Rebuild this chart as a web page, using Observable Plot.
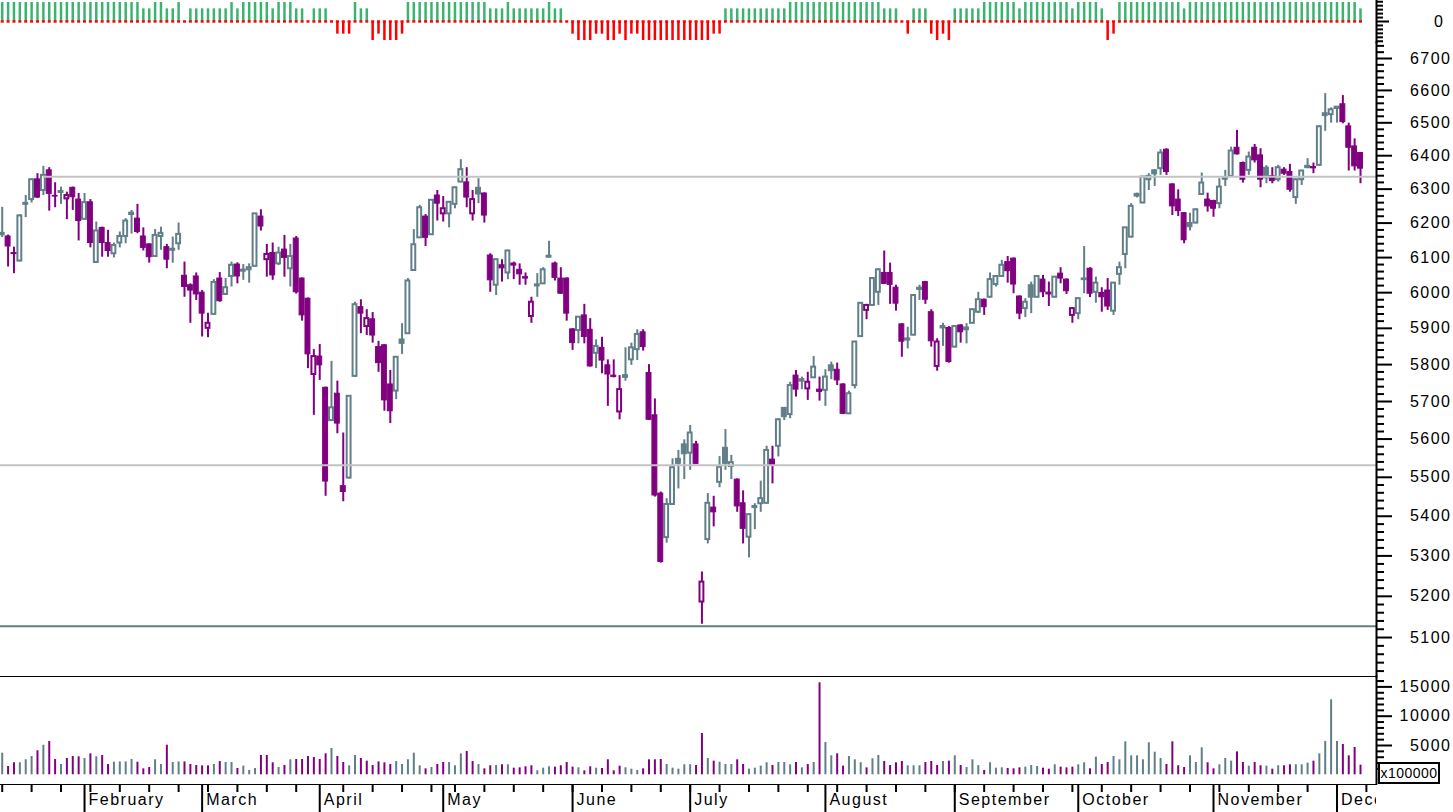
<!DOCTYPE html>
<html><head><meta charset="utf-8">
<script src="https://cdn.jsdelivr.net/npm/d3@7"></script>
<script src="https://cdn.jsdelivr.net/npm/@observablehq/plot@0.6"></script>
<style>
html,body{margin:0;padding:0;background:#fff;}
#chart{position:relative;width:1453px;height:812px;overflow:hidden;background:#fff;}
#chart svg{display:block;}
#unit{position:absolute;left:1378px;top:762px;width:58px;height:18px;border:2px solid #000;font:14px 'Liberation Sans',Arial,sans-serif;letter-spacing:0.5px;line-height:18px;text-align:center;color:#000;background:#fff;}
</style></head><body><div id="chart"></div>
<script>
// ---- data (trading days, mid-January to early December) ----
const open = [6166,6161,6113,6090,6255,6269,6329,6296,6356,6280,6290,6271,6304,6269,6211,6261,6086,6186,6142,6111,6142,6161,6225,6213,6161,6138,6103,6161,6130,6121,6140,6048,6021,6046,6000,5900,5939,6040,5995,6046,6080,6061,6065,6075,6219,6094,6113,6082,6123,6068,6155,6040,5983,5773,5822,5737,5649,5721,5477,5498,5768,5959,5905,5925,5848,5853,5746,5728,5869,5885,6063,6157,6219,6166,6281,6227,6227,6255,6321,6320,6227,6304,6287,6106,6021,6078,6056,6083,6065,6044,5933,6019,6025,6101,6083,6040,6040,5897,5894,5936,5896,5831,5846,5798,5770,5672,5765,5813,5841,5889,5777,5663,5458,5346,5430,5548,5586,5563,5586,5186,5341,5422,5487,5577,5528,5494,5433,5347,5422,5432,5433,5546,5581,5683,5665,5770,5755,5734,5764,5732,5730,5798,5786,5746,5667,5743,5877,5950,5964,6001,6056,6056,6014,5911,5872,5881,6014,6030,5945,5795,5901,5901,5848,5908,5896,5914,5945,5980,5987,6023,6046,6087,6097,5989,5955,6021,5987,6037,6000,5987,6054,6037,5936,5941,6037,6068,6001,5999,6006,5948,6052,6109,6159,6286,6259,6328,6356,6361,6418,6314,6269,6229,6200,6200,6284,6269,6265,6257,6336,6338,6424,6378,6356,6424,6401,6364,6338,6328,6358,6351,6275,6328,6364,6366,6371,6522,6525,6544,6557,6489,6428,6408];
const high = [6246,6165,6130,6224,6281,6330,6346,6368,6364,6319,6306,6291,6306,6287,6287,6269,6203,6188,6179,6142,6174,6213,6237,6255,6186,6140,6181,6188,6138,6159,6200,6087,6025,6056,6006,5942,6037,6057,6040,6087,6085,6080,6082,6228,6239,6138,6142,6130,6164,6138,6161,6042,5985,5841,5855,5739,5809,5755,5616,5716,5973,5980,5952,5944,5864,5855,5784,5822,5913,6040,6181,6252,6225,6269,6296,6278,6263,6306,6388,6364,6296,6331,6289,6111,6096,6094,6121,6087,6082,6056,5987,6054,6071,6147,6087,6071,6042,5899,5933,5967,5927,5868,5875,5813,5813,5770,5846,5859,5896,5896,5800,5707,5462,5445,5548,5570,5598,5636,5594,5260,5458,5451,5554,5625,5557,5496,5465,5406,5432,5490,5581,5581,5654,5684,5752,5784,5766,5779,5822,5766,5786,5807,5804,5748,5728,5864,5972,5967,6042,6068,6119,6084,6021,5913,5903,5994,6021,6032,5952,5871,5914,5905,5907,5910,5913,5954,6001,5982,6056,6048,6092,6103,6099,5991,5983,6030,6048,6049,6030,6046,6071,6039,5957,5985,6132,6071,6044,6014,6040,6029,6087,6188,6257,6288,6338,6346,6358,6418,6421,6316,6298,6231,6229,6241,6348,6288,6267,6331,6356,6426,6477,6381,6411,6434,6421,6370,6364,6371,6364,6374,6330,6356,6391,6378,6490,6590,6546,6550,6584,6499,6451,6410];
const low = [6158,6073,6054,6088,6216,6259,6272,6281,6235,6245,6255,6210,6237,6148,6209,6128,6084,6101,6101,6099,6128,6140,6168,6169,6119,6084,6101,6121,6068,6084,6121,5987,5914,5978,5876,5874,5937,5973,5992,6016,6025,6035,6027,6073,6177,6044,6035,6077,6044,6016,5996,5920,5789,5663,5757,5451,5647,5614,5437,5496,5765,5885,5880,5859,5779,5674,5641,5705,5828,5883,6061,6155,6132,6164,6206,6203,6186,6242,6319,6245,6206,6257,6200,6001,5992,6030,6037,6037,6021,6021,5914,5987,6023,6099,6033,5995,5920,5839,5857,5857,5793,5789,5775,5687,5764,5651,5755,5798,5811,5837,5649,5449,5282,5332,5428,5470,5494,5518,5533,5132,5330,5373,5473,5518,5494,5410,5330,5295,5366,5410,5431,5483,5553,5649,5654,5712,5732,5703,5762,5701,5687,5759,5743,5665,5665,5734,5875,5924,5962,5964,6023,5967,5948,5820,5843,5879,5978,5967,5848,5782,5850,5804,5846,5859,5857,5913,5941,5936,5985,6016,6044,6027,5997,5924,5930,5941,5985,5986,5961,5985,6025,5995,5914,5924,5997,5986,5970,5945,5950,5936,6021,6068,6157,6274,6257,6296,6308,6341,6341,6222,6219,6140,6177,6198,6281,6232,6217,6242,6308,6336,6402,6318,6341,6378,6304,6316,6316,6321,6341,6291,6255,6311,6361,6346,6369,6474,6499,6499,6497,6354,6354,6316];
const close = [6170,6132,6110,6221,6258,6328,6275,6341,6286,6278,6293,6281,6276,6206,6260,6142,6177,6142,6119,6135,6161,6206,6229,6174,6128,6101,6164,6170,6094,6124,6167,6016,6006,5995,5941,5914,6029,5976,6014,6078,6046,6064,6071,6227,6190,6109,6049,6113,6099,6103,6001,5936,5828,5822,5798,5489,5683,5641,5462,5714,5966,5941,5927,5880,5804,5703,5674,5820,5857,6033,6137,6245,6157,6267,6257,6242,6261,6304,6358,6275,6269,6284,6222,6035,6094,6069,6119,6077,6052,6040,5973,6022,6065,6104,6042,5997,5941,5859,5931,5876,5795,5850,5811,5773,5766,5732,5770,5846,5883,5848,5651,5453,5285,5430,5525,5535,5560,5616,5535,5235,5433,5410,5526,5535,5538,5425,5368,5404,5425,5445,5570,5531,5651,5658,5743,5732,5759,5752,5793,5726,5766,5782,5757,5667,5721,5862,5970,5964,6040,6065,6025,6022,5969,5863,5866,5992,6008,5980,5864,5862,5905,5807,5905,5889,5901,5952,5980,5959,6037,6046,6078,6061,6023,5941,5973,5986,6046,6001,5995,6044,6040,6004,5955,5983,6039,5997,6027,5987,5961,6027,6071,6186,6249,6278,6336,6338,6344,6408,6351,6249,6235,6150,6188,6239,6318,6249,6242,6306,6328,6414,6404,6328,6396,6386,6328,6332,6324,6364,6346,6298,6328,6354,6368,6362,6488,6528,6540,6548,6502,6424,6368,6361];
// volume in units of 100000
const volume = [3690,1420,2050,2050,2560,3120,4100,5050,5680,2610,1760,2780,3120,3070,2780,3580,3070,3300,1760,2150,2200,2200,2610,2150,1020,1250,2560,1760,5050,2100,2200,2200,1760,1590,1530,1530,1760,2260,2100,2100,1080,1480,740,1080,3300,3300,2050,1250,1590,2560,2610,2610,3120,2950,2610,3580,4490,3120,2100,1530,3300,2780,2330,1590,2200,2050,1760,2260,1760,2560,3690,1530,1020,1250,1760,2100,2100,1530,3580,3980,2260,1760,1020,1540,1600,1710,1710,1130,1190,1370,1540,680,1130,1370,1310,1540,2100,1310,1190,680,1370,1130,1080,2560,680,1480,1190,960,740,1020,2560,2560,2610,1760,1130,960,1710,1710,1590,7050,2780,2330,2150,1760,1760,2560,1760,960,1130,1480,2050,1590,2100,2100,1710,2100,1190,1760,2100,15700,5510,3240,3580,1480,3120,2560,2050,1190,2730,3300,2270,1590,2050,2270,1540,1540,1540,2100,2270,1590,2270,2330,3240,1590,1250,2560,1560,740,2050,1130,1190,1080,1020,1190,1310,1590,1420,1130,960,1710,1310,1190,1310,1710,2050,1020,3010,1760,2100,3120,2560,5630,3240,3240,2560,5460,3860,2780,1760,5630,1540,1250,3240,2100,4610,2050,1020,1710,2780,2330,3920,2100,1480,2100,1540,1480,960,1540,1540,1710,1710,1710,1990,2330,3580,5690,12800,5690,5170,3240,4660,1650];
// trend indicator shown in the top strip
const signal = [3,3,3,3,3,3,3,3,3,3,3,3,3,3,3,3,3,3,3,3,3,3,3,3,2,2,3,3,2,2,3,0,2,2,2,2,2,2,2,3,2,3,3,3,3,3,2,3,3,3,2,2,0,2,2,2,0,-2,-2,-2,3,2,2,-3,-2,-3,-3,-3,-2,3,3,3,3,3,3,3,3,3,3,3,3,3,3,2,2,2,3,2,2,2,2,2,2,3,2,2,0,-2,-3,-3,-3,-2,-2,-3,-3,-2,-3,-2,-2,-3,-3,-3,-3,-3,-3,-3,-3,-3,-3,-3,-3,-2,-2,2,2,2,2,2,2,2,2,2,2,2,3,3,3,3,3,3,3,3,3,3,3,3,3,3,3,3,2,2,2,0,-2,2,2,2,-2,-3,-2,-3,2,2,2,2,2,3,3,3,3,3,3,2,3,3,3,3,3,3,3,3,2,3,3,3,3,2,-3,-2,3,3,3,3,3,3,3,3,3,3,3,2,3,3,3,3,3,3,3,3,3,3,3,3,3,3,3,3,3,3,3,3,3,3,3,3,3,3,3,3,3,2,0,-2];
const monthLabels = ["February","March","April","May","June","July","August","September","October","November","December"];
const monthStarts = [14,34,54,75,97,117,140,162,183,206,227];
const weekTicks = [0,5,10,15,20,25,30,35,40,45,50,58,63,68,73,77,82,87,92,97,102,107,112,117,122,127,132,137,142,147,152,157,162,167,172,177,182,187,192,197,202,207,212,217,222,227,232];
const priceTicks = [5100,5200,5300,5400,5500,5600,5700,5800,5900,6000,6100,6200,6300,6400,6500,6600,6700];
const volumeTicks = [5000,10000,15000];
const signalTicks = [0];
const levelValues = [6337, 5531, 5127];
const levelStarts = [7, null, null];
const levelColors = ["#c3c3c3", "#c3c3c3", "#617f88"];

// ---- layout ----
const W = 1453, MR = 77;
const xDomain = [-0.29, 233.72];
const UP = "#617f88", DOWN = "#800080";
const rows = close.map((c, i) => ({i, o: open[i], h: high[i], l: low[i], c, v: volume[i], s: signal[i], up: i === 0 || c >= close[i - 1]}));
const style = {fontFamily: "'Liberation Sans', Arial, sans-serif", fontSize: "16px", color: "#000", background: "transparent", overflow: "visible", letterSpacing: "1.5px"};
const common = {width: W, marginLeft: 0, marginRight: MR, x: {domain: xDomain, axis: null}, style};

const sigMinor = d3.range(-5, 6).filter(k => k !== 0).map(k => k * 0.625);
const priceMinor = d3.range(5020, 6750, 20).filter(v => v % 100 !== 0);
const volMinor = d3.range(1000, 16001, 1000).filter(v => v % 5000 !== 0);

const strip = Plot.plot({...common, height: 42, marginTop: 0, marginBottom: 0,
  y: {domain: [-3.32, 3.32], label: null},
  marks: [
    Plot.ruleX(rows.filter(d => d.s > 0), {x: "i", y1: 0, y2: "s", stroke: "#3cb371", strokeWidth: 2.5}),
    Plot.ruleX(rows.filter(d => d.s < 0), {x: "i", y1: 0, y2: "s", stroke: "#ff0000", strokeWidth: 2.5}),
    Plot.ruleX(rows, {x: "i", y1: -0.27, y2: 0.12, stroke: "#ff0000", strokeWidth: 3}),
    Plot.axisY({anchor: "right", ticks: sigMinor, tickSize: 6, tickFormat: () => "", strokeWidth: 2}),
    Plot.axisY({anchor: "right", ticks: signalTicks, tickSize: 12, tickPadding: 56, tickFormat: d => String(d), textAnchor: "end", strokeWidth: 2}),
    Plot.frame({anchor: "right", strokeWidth: 2})
  ]
});

function bodies(data, color) {
  return [
    Plot.rect(data.filter(d => d.c <= d.o), {x1: d => d.i - 0.42, x2: d => d.i + 0.42, y1: "o", y2: "c", fill: color, stroke: color, strokeWidth: 1}),
    Plot.rect(data.filter(d => d.c > d.o), {x1: d => d.i - 0.33, x2: d => d.i + 0.33, y1: "o", y2: "c", fill: "white", stroke: color, strokeWidth: 2})
  ];
}
const ups = rows.filter(d => d.up), downs = rows.filter(d => !d.up);
const levels = levelValues.map((v, k) => ({v, from: levelStarts[k] == null ? xDomain[0] : levelStarts[k], to: xDomain[1], color: levelColors[k]}));

const main = Plot.plot({...common, height: 634, marginTop: 0, marginBottom: 0,
  y: {type: "log", domain: [5007.2, 6750.7], label: null},
  marks: [
    Plot.ruleX(ups, {x: "i", y1: "l", y2: "h", stroke: UP, strokeWidth: 2}),
    Plot.ruleX(downs, {x: "i", y1: "l", y2: "h", stroke: DOWN, strokeWidth: 2}),
    ...bodies(ups, UP),
    ...bodies(downs, DOWN),
    ...levels.map(d => Plot.ruleY([d], {y: "v", x1: "from", x2: "to", stroke: d.color, strokeWidth: 2})),
    Plot.axisY({anchor: "right", ticks: priceMinor, tickSize: 7, tickFormat: () => "", strokeWidth: 2}),
    Plot.axisY({anchor: "right", ticks: priceTicks, tickSize: 15, tickPadding: 60, tickFormat: d => String(d), textAnchor: "end", strokeWidth: 2}),
    Plot.frame({anchor: "bottom", strokeWidth: 1}),
    Plot.frame({anchor: "right", strokeWidth: 2})
  ]
});

const vol = Plot.plot({...common, height: 107, marginTop: 0, marginBottom: 0,
  y: {domain: [-1485, 16775], label: null},
  marks: [
    Plot.ruleX(ups, {x: "i", y1: 0, y2: "v", stroke: UP, strokeWidth: 2}),
    Plot.ruleX(downs, {x: "i", y1: 0, y2: "v", stroke: DOWN, strokeWidth: 2}),
    Plot.axisY({anchor: "right", ticks: volMinor, tickSize: 7, tickFormat: () => "", strokeWidth: 2}),
    Plot.axisY({anchor: "right", ticks: volumeTicks, tickSize: 15, tickPadding: 60, tickFormat: d => String(d), textAnchor: "end", strokeWidth: 2}),
    Plot.frame({anchor: "right", strokeWidth: 2})
  ]
});

const xaxis = Plot.plot({...common, height: 29, marginTop: 1, marginBottom: 0,
  y: {domain: [0, 1], axis: null},
  marks: [
    Plot.ruleX(weekTicks, {x: d => d, y1: 1, y2: 1 - 8 / 28, stroke: "#000", strokeWidth: 2}),
    Plot.ruleX(monthStarts, {x: d => d, y1: 1, y2: 0, stroke: "#000", strokeWidth: 2}),
    Plot.text(monthLabels, {x: (d, k) => monthStarts[k], y: 0.46, text: d => d, textAnchor: "start", dx: 4, fontSize: 16, fill: "#000", clip: true}),
    Plot.frame({anchor: "top", strokeWidth: 1})
  ]
});

const root = document.getElementById("chart");
[strip, main, vol, xaxis].forEach(p => root.appendChild(p));
const unit = document.createElement("div");
unit.id = "unit"; unit.textContent = "x100000";
root.appendChild(unit);
</script></body></html>
